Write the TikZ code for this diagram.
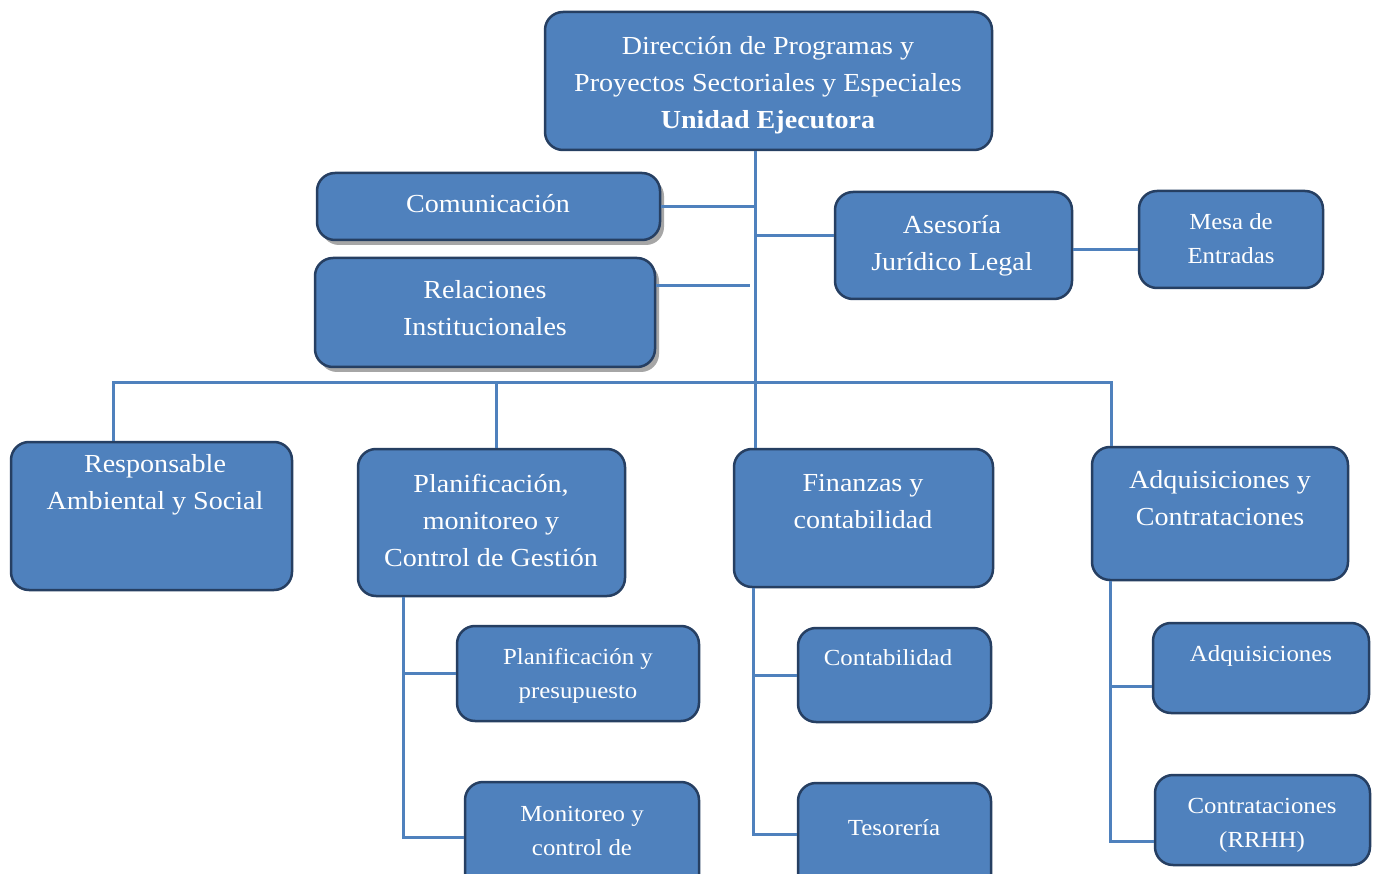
\documentclass[tikz,border=0pt]{standalone}
\usepackage{fontspec}
\setmainfont{Liberation Serif}[FakeStretch=1.08]
\usetikzlibrary{shadows,calc}
\definecolor{boxfill}{HTML}{4F81BD}
\definecolor{boxline}{HTML}{263F62}
\definecolor{connc}{HTML}{4F81BD}
\begin{document}
\begin{tikzpicture}[x=1pt,y=-1pt,
  box/.style={draw=boxline, fill=boxfill, line width=2.5pt, rounded corners=18pt, inner sep=0pt},
  shad/.style={drop shadow={shadow xshift=4pt, shadow yshift=-5pt, fill=black!35, opacity=1}},
  big/.style={text=white, align=center, inner sep=0pt, font=\fontsize{26}{37}\selectfont},
  small/.style={text=white, align=center, inner sep=0pt, font=\fontsize{23}{34}\selectfont},
  conn/.style={draw=connc, line width=3pt}]
\useasboundingbox (0,0) rectangle (1379,874);
\clip (0,0) rectangle (1379,874);
\fill[white] (0,0) rectangle (1379,874);

% connector coordinates
\coordinate (tx) at (755,0);
\coordinate (bus) at (0,383);
\coordinate (rx) at (113,0);
\coordinate (plx) at (496,0);
\coordinate (adx) at (1111,0);
\coordinate (px) at (403,0);
\coordinate (fx) at (753,0);
\coordinate (ax) at (1110,0);

% boxes
\node[box, minimum width=447pt, minimum height=138pt] (top) at (768.5,81) {};
\node[box, shad, minimum width=343pt, minimum height=67pt] (com) at (488.5,206.5) {};
\node[box, shad, minimum width=340pt, minimum height=109pt] (rel) at (485,312.5) {};
\node[box, minimum width=237pt, minimum height=107pt] (ase) at (953.5,245.5) {};
\node[box, minimum width=184pt, minimum height=97pt] (mesa) at (1231,239.5) {};
\node[box, minimum width=281pt, minimum height=148pt] (resp) at (151.5,516) {};
\node[box, minimum width=267pt, minimum height=147pt] (plan) at (491.5,522.5) {};
\node[box, minimum width=259pt, minimum height=138pt] (fin) at (863.5,518) {};
\node[box, minimum width=256pt, minimum height=133pt] (adq) at (1220,513.5) {};
\node[box, minimum width=242pt, minimum height=95pt] (pp) at (578,673.5) {};
\node[box, minimum width=234pt, minimum height=110pt] (mon) at (582,837) {};
\node[box, minimum width=193pt, minimum height=94pt] (cont) at (894.5,675) {};
\node[box, minimum width=193pt, minimum height=110pt] (tes) at (894.5,838) {};
\node[box, minimum width=216pt, minimum height=90pt] (adqs) at (1261,668) {};
\node[box, minimum width=215pt, minimum height=90pt] (contr) at (1262.5,820) {};

% texts
\node[big] (ttop) at (768,85.5) {Dirección de Programas y\\Proyectos Sectoriales y Especiales\\\textbf{Unidad Ejecutora}};
\node[big] (tcom) at (488,204) {Comunicación};
\node[big] (trel) at (485,308) {Relaciones\\Institucionales};
\node[big] (tase) at (952,246) {Asesoría\\Jurídico Legal};
\node[small] (tmesa) at (1231,238.5) {Mesa de\\Entradas};
\node[big] (tresp) at (155,484.5) {Responsable\\Ambiental y Social};
\node[big] (tplan) at (491,520.5) {Planificación,\\monitoreo y\\Control de Gestión};
\node[big] (tfin) at (863,501.5) {Finanzas y\\contabilidad};
\node[big] (tadq) at (1220,498.5) {Adquisiciones y\\Contrataciones};
\node[small] (tpp) at (578,676) {Planificación y\\presupuesto};
\node[small] (tmon) at (582,830.5) {Monitoreo y\\control de};
\node[small] (tcont) at (888,658) {Contabilidad};
\node[small] (ttes) at (894,828) {Tesorería};
\node[small] (tadqs) at (1261,656) {Adquisiciones};
\node[small] (tcontr) at (1262,825) {Contrataciones\\(RRHH)};

% connectors
\draw[conn] (top.south -| tx) -- (fin.north -| tx);
\draw[conn] (com.east) -- (com.east -| tx);
\draw[conn] ($(rel.east)+(0,-27)$) -- ($(rel.east -| tx)+(-5,-27)$);
\draw[conn] ($(ase.west)+(0,-10)$) -- ($(ase.west -| tx)+(0,-10)$);
\draw[conn] ($(ase.east)+(0,4)$) -- ($(ase.east -| mesa.west)+(0,4)$);
\draw[conn] (resp.north -| rx) -- (bus -| rx) -- (bus -| adx) -- (adq.north -| adx);
\draw[conn] (plan.north -| plx) -- (bus -| plx);
% planificacion subtree
\draw[conn] (plan.south -| px) -- (mon.west -| px) -- (mon.west);
\draw[conn] (pp.west -| px) -- (pp.west);
% finanzas subtree
\draw[conn] (fin.south -| fx) -- ($(tes.west -| fx)+(0,-4)$) -- ($(tes.west)+(0,-4)$);
\draw[conn] (cont.west -| fx) -- (cont.west);
% adquisiciones subtree
\draw[conn] (adq.south -| ax) -- ($(contr.west -| ax)+(0,21)$) -- ($(contr.west)+(0,21)$);
\draw[conn] ($(adqs.west -| ax)+(0,18)$) -- ($(adqs.west)+(0,18)$);
\end{tikzpicture}
\end{document}
